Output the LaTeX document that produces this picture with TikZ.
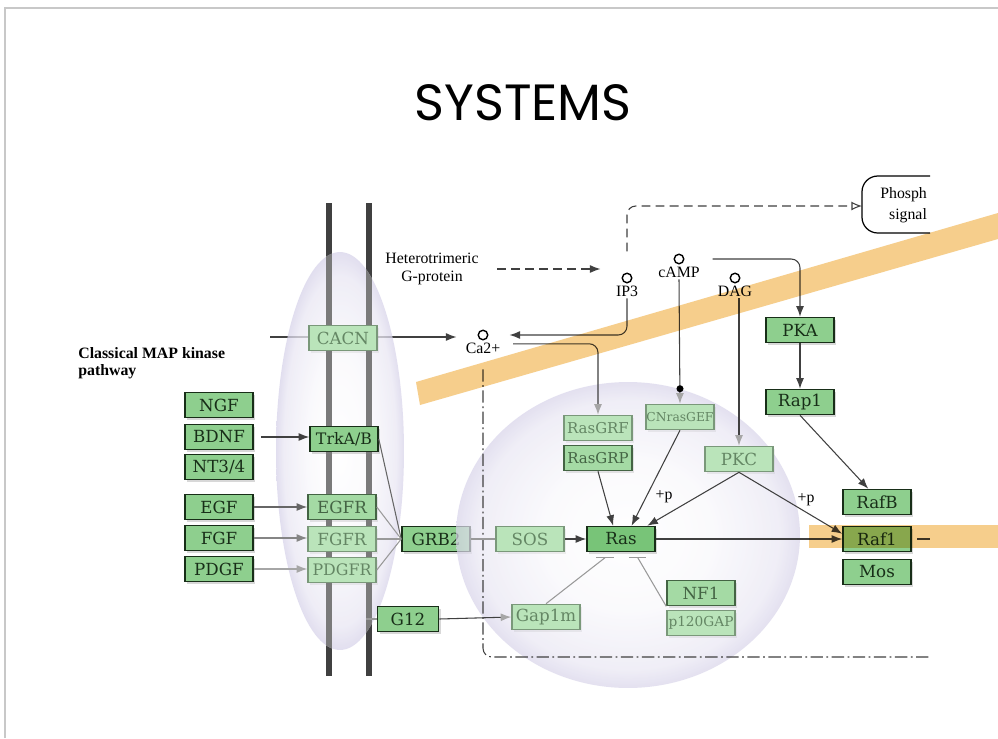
\documentclass[tikz,border=0pt]{standalone}
\usepackage{fontspec}
\setmainfont{Liberation Serif}
\newfontfamily\titlefont{Poppins}
\newfontfamily\genefont{DejaVu Serif}
\usetikzlibrary{arrows.meta, shadows}

\definecolor{genegreen}{RGB}{142,207,142}
\definecolor{rasgreen}{RGB}{120,196,120}
\definecolor{midgreen}{RGB}{164,218,164}
\definecolor{fadegreen}{RGB}{186,228,186}
\definecolor{geneline}{RGB}{24,46,24}
\definecolor{midline}{RGB}{68,100,68}
\definecolor{fadeline}{RGB}{122,152,122}
\definecolor{fadetext}{RGB}{100,134,100}
\definecolor{lav}{RGB}{216,212,234}
\definecolor{hilite}{RGB}{246,206,140}
\definecolor{framegray}{RGB}{200,200,200}
\pgfdeclareradialshading{glow}{\pgfpointorigin}{color(0bp)=(white);
  color(12bp)=(white!85!lav); color(22bp)=(white!45!lav); color(25bp)=(lav); color(50bp)=(lav)}

\begin{document}
\begin{tikzpicture}[x=0.02cm, y=-0.02cm, >={Latex[length=6pt,width=4.5pt]},
    boxbase/.style={line width=0.9pt, minimum width=1.36cm, minimum height=0.5cm,
      inner sep=0pt, font=\genefont\fontsize{9.5}{10}\selectfont},
    genebox/.style={boxbase, draw=geneline, fill=genegreen, text=geneline,
      drop shadow={opacity=0.3, shadow xshift=1.2pt, shadow yshift=-1.2pt}},
    rasbox/.style={genebox, fill=rasgreen},
    midbox/.style={boxbase, draw=midline, fill=midgreen, text=midline,
      drop shadow={opacity=0.2, shadow xshift=1.2pt, shadow yshift=-1.2pt}},
    fadebox/.style={boxbase, draw=fadeline, fill=fadegreen, text=fadetext,
      drop shadow={opacity=0.12, shadow xshift=1.2pt, shadow yshift=-1.2pt}},
    cpd/.style={circle, draw, line width=0.8pt, minimum size=0.19cm, inner sep=0pt},
    cpdlbl/.style={font=\fontsize{9}{10}\selectfont, inner sep=1pt, anchor=north},
    membrane/.style={line width=3.4pt, draw=black!75},
    link/.style={draw=black!75, line width=0.6pt},
    fadelink/.style={draw=black!40, line width=0.6pt},
    greytip/.style={-{Latex[length=6pt,width=4.5pt,color=black!35]}},
]
\useasboundingbox (0,0) rectangle (998,738);
\fill[white] (0,0) rectangle (998,738);

% frame
\draw[framegray, line width=1.7pt] (5,738) -- (5,8) -- (998,8);

% title
\node[font=\titlefont\fontsize{29}{32}\selectfont] (title) at (523,103) {SYSTEMS};

% membrane
\draw[membrane] (329,203) -- (329,676);
\draw[membrane] (369,203) -- (369,676);

% small molecules
\node[cpd] (ca) at (483,335) {};
\node[cpdlbl] (calbl) at (ca.south) {Ca2+};
\node[cpd] (ip3) at (627,278) {};
\node[cpdlbl] (ip3lbl) at (ip3.south) {IP3};
\node[cpd] (camp) at (679,259) {};
\node[cpdlbl] (camplbl) at (camp.south) {cAMP};
\node[cpd] (dag) at (735,278) {};
\node[cpdlbl] (daglbl) at (dag.south) {DAG};

% channel line
\coordinate (cacnin) at (270,337);
\draw[link, ->, shorten >=12pt] (cacnin) -- (cacnin -| ca.west);

% membrane ellipse
\shade[shading=glow, opacity=0.75] (340,451) ellipse [x radius=1.28cm, y radius=3.98cm];
\begin{scope}
  \clip (340,451) ellipse [x radius=1.28cm, y radius=3.98cm];
  \draw[membrane, draw=black!52] (329,203) -- (329,676);
  \draw[membrane, draw=black!52] (369,203) -- (369,676);
\end{scope}

% labels
\node[anchor=north west, align=left, inner sep=0pt,
      font=\bfseries\fontsize{9}{10}\selectfont] (mapk) at (78,347) {Classical MAP kinase\\pathway};
\node[align=center, font=\fontsize{9}{10.5}\selectfont] (gprot) at (432,269) {Heterotrimeric\\G-protein};

% ligands
\node[genebox] (ngf) at (219,405) {NGF};
\node[genebox] (bdnf) at (219,437) {BDNF};
\node[genebox] (nt) at (219,467) {NT3/4};
\node[genebox] (egf) at (219,507) {EGF};
\node[genebox] (fgf) at (219,538) {FGF};
\node[genebox] (pdgf) at (219,569) {PDGF};

% receptors
\node[fadebox] (cacn) at (343,338) {CACN};
\node[genebox, font=\genefont\fontsize{9}{10}\selectfont] (trk) at (344,439) {TrkA/B};
\node[midbox] (egfr) at (342,507) {EGFR};
\node[fadebox] (fgfr) at (342,539) {FGFR};
\node[fadebox, font=\genefont\fontsize{9}{10}\selectfont] (pdgfr) at (342,570) {PDGFR};
\node[genebox] (grb) at (436,539) {GRB2};
\node[genebox, minimum width=1.22cm] (g12) at (408,619) {G12};

\draw[link, ->, shorten <=4pt] (bdnf.east) -- (bdnf.east -| trk.west);
\draw[link, draw=black!60, ->] (egf.east) -- (egf.east -| egfr.west);
\draw[link, draw=black!48, ->] (fgf.east) -- (fgf.east -| fgfr.west);
\draw[link, draw=black!35, ->] (pdgf.east) -- (pdgf.east -| pdgfr.west);
\draw[link, draw=black!60] (trk.east) -- (grb.west);
\draw[fadelink] (egfr.east) -- (grb.west);
\draw[fadelink] (fgfr.east) -- (grb.west);
\draw[fadelink] (pdgfr.east) -- (grb.west);
\draw[fadelink] (g12.west) -- ++(-11,0);

% Ras compartment
\shade[shading=glow, opacity=0.7] (628,535) ellipse [x radius=3.44cm, y radius=3.06cm];

\node[fadebox] (sos) at (530,539) {SOS};
\node[rasbox] (ras) at (621,539) {Ras};
\node[fadebox, font=\genefont\fontsize{8.5}{9}\selectfont] (rasgrf) at (598,428) {RasGRF};
\node[midbox, font=\genefont\fontsize{8.5}{9}\selectfont] (rasgrp) at (598,458) {RasGRP};
\node[fadebox, font=\genefont\fontsize{7}{8}\selectfont] (cnras) at (680,417) {CNrasGEF};
\node[fadebox] (pkc) at (739,459) {PKC};
\node[fadebox] (gap) at (546,617) {Gap1m};
\node[midbox] (nf1) at (701,593) {NF1};
\node[fadebox, font=\genefont\fontsize{7.8}{8}\selectfont] (p120) at (701,623) {p120GAP};

% cAMP branch
\node[genebox] (pka) at (800,330) {PKA};
\node[genebox] (rap1) at (800,402) {Rap1};
\node[genebox] (rafb) at (877,502) {RafB};
\node[genebox] (raf1) at (877,539) {Raf1};
\node[genebox] (mos) at (877,572) {Mos};

% second messengers
\draw[link, dash pattern=on 5pt off 3pt, ->, shorten <=7pt, shorten >=12pt] (gprot.east) -- (gprot.east -| ip3.west);
\coordinate (phosphin) at (862,206);
\draw[link, dash pattern=on 5pt off 3pt, -{Latex[open,length=6pt,width=5pt]}, rounded corners=5pt] ([yshift=12pt]ip3.north) |- (phosphin);
\draw[line width=0.7pt, rounded corners=9pt] (930,176) -| (862,233) -- (930,233);
\node[anchor=east, align=right, inner sep=1pt, font=\fontsize{9}{12}\selectfont] (phosph) at (929,205) {Phosph\\signal};
\draw[link, ->, rounded corners=5pt, shorten >=12pt] (ip3lbl.south) |- (ca.east);
\draw[link, greytip, rounded corners=5pt] ([shift={(14pt,-5pt)}]ca.east) -| (rasgrf.north);
\coordinate (caend) at (930,657);
\draw[link, dash pattern=on 7pt off 2pt on 1pt off 2pt, rounded corners=5pt, shorten <=8pt] (calbl.south) |- (caend);
\draw[link, greytip] (camplbl.south) -- (cnras.north);
\fill (cnras.north) ++(0,-15) circle (2pt);
\draw[link, ->, rounded corners=5pt] ([xshift=16pt]camp.east) -| (pka.north);
\draw[link, greytip] (daglbl.south -| pkc.north) -- (pkc.north);
\draw[link, greytip] (g12.east) -- (gap.west);

% Ras links
\draw[fadelink] (grb.east) -- (sos.west);
\draw[link, ->] (sos) -- (ras);
\draw[link, ->] (rasgrp.south) -- ([xshift=-4.5pt]ras.north);
\draw[link, ->] (cnras.south) -- ([xshift=6pt]ras.north);
\draw[link, ->] (pkc.south) -- ([xshift=15pt]ras.north);
\node[cpdlbl, anchor=center] (pras) at (664,497) {+p};
\draw[link, ->] (pkc.south) -- ([yshift=3pt]raf1.west);
\node[cpdlbl, anchor=center] (praf) at (806,500) {+p};
\draw[link, ->] (ras) -- (raf1);
\draw[link] ([xshift=3pt]raf1.east) -- ++(13,0);
\draw[link, ->] (pka) -- (rap1);
\draw[link, ->] (rap1.south) -- ([xshift=-5pt]rafb.north);
\coordinate (gapbar) at ([shift={(-9pt,-3pt)}]ras.south);
\coordinate (nfbar) at ([shift={(9.5pt,-3pt)}]ras.south);
\draw[fadelink] (gap.north) -- (gapbar);
\draw[fadelink] (nf1.south west) -- (nfbar);
\draw[fadelink, line width=1pt] ([xshift=-5pt]gapbar) -- ([xshift=5pt]gapbar);
\draw[fadelink, line width=1pt] ([xshift=-5pt]nfbar) -- ([xshift=5pt]nfbar);

% highlighter strokes
\fill[hilite, blend mode=multiply] (416,382) -- (998,213) -- (998,239) -- (420,405) -- cycle;
\fill[hilite, blend mode=multiply] (809,525) rectangle (998,548);
\end{tikzpicture}
\end{document}
